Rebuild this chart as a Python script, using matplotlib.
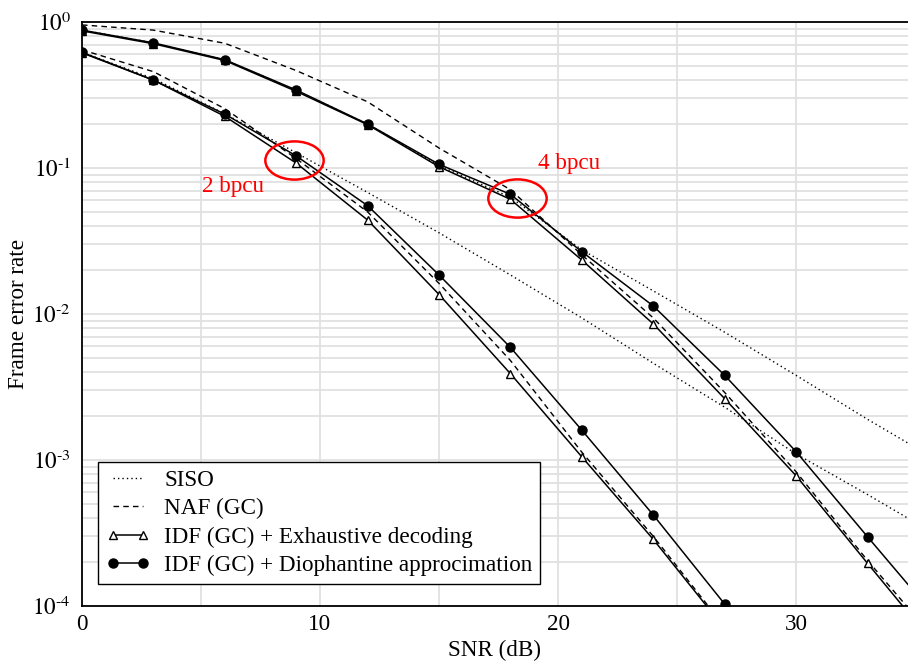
import numpy as np
import matplotlib
matplotlib.use('Agg')
import matplotlib.pyplot as plt
from matplotlib.path import Path
from matplotlib.transforms import Affine2D
from matplotlib.ticker import MultipleLocator, FixedLocator, FixedFormatter, LogLocator, NullFormatter

plt.rcParams['font.family'] = ['Liberation Serif', 'DejaVu Serif']
plt.rcParams['mathtext.fontset'] = 'stix'

# SNR grid (dB)
snr = [0, 3, 6, 9, 12, 15, 18, 21, 24, 27, 30, 33, 36]

# 2 bpcu
siso_2 = [0.62, 0.41, 0.235, 0.127, 0.068, 0.036, 0.0185, 0.0094, 0.0046, 0.0023, 0.0011, 5.8e-4, 3.0e-4]
naf_2 = [0.645, 0.457, 0.255, 0.116, 0.050, 0.0162, 0.0048, 0.00113, 3.0e-4, 7.2e-5]
idf_ex_2 = [0.615, 0.40, 0.226, 0.108, 0.044, 0.0136, 0.0039, 0.00105, 2.86e-4, 7.0e-5]
idf_dio_2 = [0.62, 0.40, 0.234, 0.121, 0.0552, 0.0185, 0.0059, 0.0016, 4.2e-4, 1.03e-4]

# 4 bpcu
siso_4 = [0.88, 0.72, 0.55, 0.34, 0.2, 0.104, 0.063, 0.0275, 0.0144, 0.0075, 0.0038, 0.0019, 0.00098]
naf_4 = [0.955, 0.88, 0.715, 0.465, 0.284, 0.137, 0.071, 0.0254, 0.0094, 0.0029, 8.3e-4, 2.05e-4, 5.5e-5]
idf_ex_4 = [0.87, 0.71, 0.545, 0.335, 0.198, 0.102, 0.061, 0.0234, 0.00855, 0.00263, 7.8e-4, 1.96e-4, 5.0e-5]
idf_dio_4 = [0.88, 0.72, 0.552, 0.342, 0.2, 0.106, 0.066, 0.0267, 0.01135, 0.0038, 0.00114, 2.98e-4, 7.9e-5]

labels = ['SISO', 'NAF (GC)', 'IDF (GC) + Exhaustive decoding', 'IDF (GC) + Diophantine approcimation']
ytick_vals = [1e-4, 1e-3, 1e-2, 1e-1, 1e0]
ytick_text = [r'$10^{\text{-4}}$', r'$10^{\text{-3}}$', r'$10^{\text{-2}}$', r'$10^{\text{-1}}$', r'$10^{0}$']

fs = 16.7

fig = plt.figure(figsize=(9.08, 6.61), dpi=100)
ax = fig.add_axes([0.0903, 0.0832, 0.9097, 0.8835])

def n(a):
    return snr[:len(a)]

dot = dict(color='black', lw=1.0, ls=(0, (1, 2.2)))
dash = dict(color='black', lw=1.0, ls=(0, (4, 3)))
tri = dict(color='black', lw=1.1, marker='^', ms=5.5, mfc='white', mec='black', mew=1.0)
circ = dict(color='black', lw=1.1, marker='o', ms=6.5, mfc='black', mec='black')

ax.plot(n(siso_2), siso_2, label=labels[0], **dot)
ax.plot(n(naf_2), naf_2, label=labels[1], **dash)
ax.plot(n(idf_ex_2), idf_ex_2, label=labels[2], **tri)
ax.plot(n(idf_dio_2), idf_dio_2, label=labels[3], **circ)

ax.plot(n(siso_4), siso_4, **dot)
ax.plot(n(naf_4), naf_4, **dash)
ax.plot(n(idf_ex_4), idf_ex_4, **tri)
ax.plot(n(idf_dio_4), idf_dio_4, **circ)

# red ellipses marking the two rate groups
ell = Path.unit_circle().transformed(Affine2D().scale(1.0, 38.0 / 58.0))
ax.plot([8.9], [0.113], marker=ell, ms=42, mfc='none', mec='red', mew=1.8, ls='none')
ax.plot([18.26], [0.0623], marker=ell, ms=42, mfc='none', mec='red', mew=1.8, ls='none')
ax.text(5.03, 0.0745, '2 bpcu', color='red', fontsize=fs, ha='left', va='center')
ax.text(19.16, 0.108, '4 bpcu', color='red', fontsize=fs, ha='left', va='center')

ax.set_yscale('log')
ax.set_xlim(0, 34.7)
ax.set_ylim(1e-4, 1)
ax.xaxis.set_major_locator(MultipleLocator(10))
ax.xaxis.set_minor_locator(MultipleLocator(5))
ax.yaxis.set_major_locator(FixedLocator(ytick_vals))
ax.yaxis.set_major_formatter(FixedFormatter(ytick_text))
ax.yaxis.set_minor_locator(LogLocator(base=10, subs=np.arange(2, 10)))
ax.yaxis.set_minor_formatter(NullFormatter())
ax.tick_params(which='both', length=0, labelsize=fs)
ax.tick_params(axis='x', pad=6)
ax.tick_params(axis='y', pad=8)
ax.grid(True, which='both', color='#e0e0e0', lw=1.3)
ax.set_axisbelow(True)
ax.spines['right'].set_visible(False)
for s in ['left', 'top', 'bottom']:
    ax.spines[s].set_linewidth(1.3)

ax.set_xlabel('SNR (dB)', fontsize=fs, labelpad=3)
ax.set_ylabel('Frame error rate', fontsize=fs, labelpad=2)

leg = ax.legend(loc='lower left', bbox_to_anchor=(0.0194, 0.0377), borderaxespad=0,
                fontsize=fs, fancybox=False, framealpha=1, edgecolor='black',
                handlelength=1.9, numpoints=2, labelspacing=0.3, handletextpad=0.6,
                borderpad=0.35)
leg.get_frame().set_linewidth(1.0)

fig.savefig('out.png', dpi=100)
